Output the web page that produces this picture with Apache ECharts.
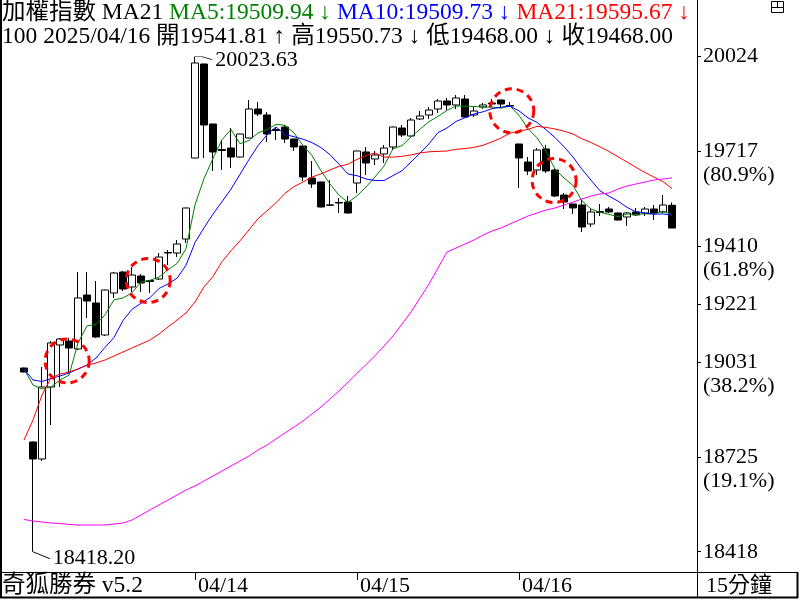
<!DOCTYPE html>
<html>
<head>
<meta charset="utf-8">
<title>加權指數 15分鐘</title>
<script src="https://cdn.jsdelivr.net/npm/echarts@6/dist/echarts.min.js"></script>
<style>
    html, body { margin: 0; padding: 0; background: #fff; }
    #main { width: 800px; height: 600px; }
</style>
</head>
<body>
<div id="main"></div>
<script>
// 15分K：04/10最後一根 + 04/11、04/14、04/15、04/16 各18根
const openArr = [19014.1, 18774.1, 18719.0, 18952.5, 19088.7, 19101.6, 19075.7, 19250.8, 19224.9, 19121.1,
    19257.3, 19325.4, 19276.8, 19312.4, 19297.9, 19302.7, 19387.0, 19387.0, 19432.4, 19695.1,
    19999.9, 19805.4, 19722.7, 19727.5, 19698.3, 19760.0, 19854.0, 19834.6, 19787.5, 19795.6,
    19756.7, 19734.0, 19630.2, 19617.3, 19543.0, 19550.8, 19552.4, 19614.0, 19714.6, 19691.9,
    19708.1, 19730.8, 19792.4, 19766.5, 19821.6, 19834.6, 19854.0, 19880.0, 19867.0, 19886.4,
    19834.6, 19860.5, 19873.5, 19883.2, 19865.4, 19740.5, 19682.1, 19656.2, 19724.3, 19656.2,
    19575.1, 19545.9, 19542.7, 19481.1, 19521.6, 19529.7, 19516.7, 19503.8, 19520.0, 19516.7,
    19529.7, 19520.0, 19541.81];
const closeArr = [19001.1, 18719.0, 18952.5, 19095.2, 19108.1, 19078.9, 19241.1, 19231.4, 19114.6, 19267.0,
    19322.2, 19270.3, 19315.7, 19289.7, 19294.6, 19374.0, 19388.7, 19416.2, 19533.0, 20003.2,
    19802.1, 19714.6, 19719.4, 19698.3, 19772.9, 19854.0, 19837.8, 19772.9, 19784.3, 19756.7,
    19730.8, 19633.5, 19610.8, 19536.2, 19542.0, 19549.2, 19516.7, 19717.8, 19678.9, 19704.8,
    19727.5, 19795.6, 19769.7, 19818.3, 19831.3, 19850.8, 19880.0, 19867.0, 19889.7, 19828.1,
    19847.5, 19867.0, 19870.2, 19870.2, 19863.7, 19695.1, 19652.9, 19721.0, 19652.9, 19571.9,
    19552.4, 19533.0, 19471.3, 19520.0, 19518.4, 19520.0, 19494.0, 19516.7, 19510.3, 19529.7,
    19516.7, 19542.7, 19468.00];
const lowArr = [19000.0, 18418.2, 18712.5, 18829.2, 18952.5, 18997.9, 19072.4, 19176.2, 19112.0, 19117.9,
    19241.1, 19263.8, 19260.5, 19260.5, 19257.3, 19299.5, 19348.1, 19374.0, 19419.5, 19694.0,
    19695.1, 19652.9, 19656.2, 19662.7, 19697.0, 19759.0, 19831.3, 19747.0, 19753.5, 19743.8,
    19717.8, 19620.5, 19597.8, 19535.0, 19541.5, 19516.7, 19515.0, 19581.6, 19640.0, 19672.4,
    19678.9, 19721.0, 19763.2, 19765.0, 19818.3, 19821.6, 19841.0, 19850.8, 19854.0, 19827.0,
    19828.1, 19854.0, 19860.5, 19857.3, 19860.5, 19597.8, 19640.0, 19640.0, 19646.5, 19568.6,
    19529.7, 19513.5, 19455.1, 19471.3, 19507.0, 19516.7, 19492.0, 19474.6, 19507.0, 19507.0,
    19494.0, 19516.7, 19468.00];
const highArr = [19015.0, 18776.0, 19017.3, 19101.6, 19111.4, 19111.4, 19325.4, 19325.4, 19296.2, 19268.0,
    19325.4, 19328.6, 19341.6, 19318.9, 19299.5, 19387.0, 19396.7, 19429.2, 19534.0, 20023.63,
    20001.0, 19806.0, 19753.5, 19792.4, 19774.0, 19883.2, 19876.7, 19844.3, 19795.6, 19802.1,
    19757.5, 19735.0, 19685.4, 19618.0, 19623.8, 19565.4, 19571.9, 19719.0, 19730.8, 19717.8,
    19737.3, 19797.0, 19802.1, 19824.8, 19847.5, 19860.5, 19886.4, 19889.7, 19899.4, 19899.4,
    19860.5, 19873.5, 19886.4, 19884.0, 19876.7, 19741.5, 19698.3, 19727.5, 19737.3, 19662.7,
    19581.6, 19547.0, 19558.9, 19529.7, 19545.9, 19536.2, 19518.0, 19520.0, 19533.0, 19536.2,
    19542.7, 19575.1, 19550.73];

// 均線
const ma5 = [19010.8, 18958.9, 18946.0, 18952.5, 18975.2, 18990.7, 19095.2, 19150.9, 19154.8, 19186.6,
    19235.2, 19241.1, 19257.9, 19293.0, 19298.5, 19308.9, 19332.5, 19352.6, 19401.3, 19543.0,
    19628.6, 19693.8, 19754.5, 19787.5, 19741.5, 19751.9, 19776.5, 19787.2, 19804.4, 19801.2,
    19776.5, 19735.6, 19703.2, 19653.6, 19610.8, 19574.5, 19551.1, 19572.5, 19601.1, 19633.5,
    19669.2, 19724.9, 19735.3, 19763.2, 19788.5, 19813.2, 19830.0, 19849.5, 19863.7, 19863.1,
    19862.4, 19859.9, 19860.5, 19856.6, 19863.7, 19833.3, 19790.5, 19760.6, 19717.2, 19658.8,
    19630.2, 19606.2, 19556.3, 19529.7, 19519.0, 19512.5, 19504.7, 19513.8, 19511.9, 19514.1,
    19513.5, 19523.2, 19509.94];
const ma10 = [19010.8, 18975.2, 18970.3, 18980.0, 18988.1, 18997.9, 19010.8, 19023.8, 19046.5, 19080.9,
    19113.0, 19168.1, 19204.4, 19223.9, 19242.4, 19271.9, 19286.8, 19305.3, 19347.1, 19420.7,
    19468.7, 19513.2, 19553.4, 19594.2, 19642.2, 19690.2, 19735.0, 19770.7, 19796.0, 19771.3,
    19764.2, 19756.1, 19745.0, 19728.8, 19705.8, 19675.3, 19643.2, 19637.7, 19627.3, 19622.1,
    19621.8, 19638.0, 19653.9, 19682.1, 19711.0, 19741.2, 19777.5, 19792.4, 19813.5, 19825.8,
    19837.8, 19844.9, 19855.0, 19860.2, 19863.4, 19847.9, 19825.2, 19810.6, 19786.9, 19761.3,
    19731.8, 19698.3, 19658.5, 19623.4, 19588.7, 19571.2, 19555.3, 19534.9, 19520.6, 19516.4,
    19512.8, 19513.8, 19509.73];
const ma21 = [18780.6, 18845.4, 18926.5, 18981.6, 18994.6, 19001.1, 19010.8, 19023.8, 19030.3, 19040.0,
    19053.0, 19066.0, 19078.9, 19091.9, 19104.9, 19124.3, 19147.0, 19169.7, 19192.4, 19228.1,
    19277.1, 19311.1, 19358.8, 19394.2, 19426.6, 19461.9, 19498.3, 19523.6, 19549.8, 19580.3,
    19602.4, 19617.3, 19633.5, 19643.9, 19656.2, 19668.2, 19675.0, 19690.6, 19703.2, 19711.3,
    19698.3, 19697.9, 19700.6, 19705.2, 19711.6, 19715.2, 19716.5, 19717.8, 19723.3, 19725.6,
    19729.8, 19736.3, 19747.6, 19760.0, 19775.5, 19782.7, 19787.9, 19797.6, 19794.3, 19789.2,
    19782.0, 19772.9, 19757.4, 19745.4, 19731.1, 19716.2, 19699.3, 19682.1, 19664.9, 19648.1,
    19633.2, 19618.6, 19595.67];
const maLong = [18522.8, 18517.9, 18514.7, 18511.4, 18509.8, 18506.5, 18504.9, 18504.9, 18504.9, 18504.9,
    18508.2, 18511.4, 18521.1, 18537.4, 18553.6, 18569.8, 18586.0, 18602.2, 18618.4, 18631.4,
    18647.6, 18663.8, 18680.0, 18696.3, 18712.5, 18728.7, 18748.1, 18764.4, 18783.8, 18803.3,
    18822.7, 18842.2, 18864.9, 18887.6, 18913.5, 18939.5, 18968.0, 18997.0, 19025.0, 19054.0,
    19085.4, 19117.9, 19156.8, 19195.7, 19241.1, 19286.5, 19338.4, 19390.3, 19403.2, 19416.2,
    19429.2, 19445.4, 19458.4, 19468.1, 19481.1, 19494.0, 19507.0, 19516.7, 19526.5, 19533.0,
    19542.7, 19552.4, 19562.1, 19571.9, 19578.4, 19581.6, 19594.6, 19604.3, 19610.8, 19617.3,
    19623.8, 19627.0, 19630.2];

// 日期刻度（每日第一根K棒的序號）
const dayStarts = [19, 37, 55];
const dayNames = ['04/14', '04/15', '04/16'];
// 黃金分割刻度
const fibRatios = [1, 0.809, 0.618, 0.5, 0.382, 0.191, 0];
const fibPct = ['', '(80.9%)', '(61.8%)', '', '(38.2%)', '(19.1%)', ''];
// 紅色虛線圈（K棒序號, 價位）
const circleSpots = [[4.8, 19037], [13.8, 19298], [54.2, 19848], [58.9, 19622]];

(function () {
    const my_echart = echarts.init(document.getElementById('main'));
    const font = "'Liberation Serif', 'Noto Sans CJK TC', serif";
    const n = closeArr.length;
    const hi = Math.max(...highArr);
    const lo = Math.min(...lowArr);
    const hiIdx = highArr.indexOf(hi);
    const loIdx = lowArr.indexOf(lo);

    const fibValues = fibRatios.map(r => lo + r * (hi - lo));
    const fibText = {};
    fibValues.forEach((v, k) => {
        fibText[v.toFixed(2)] = fibPct[k] ? '\n' + Math.round(v) + '\n' + fibPct[k] : String(Math.round(v));
    });

    const candleData = closeArr.map((c, i) => [i, openArr[i], c, lowArr[i], highArr[i]]);
    const toLine = arr => arr.map((v, i) => [i, v]);

    const head1 = '{k|加權指數 MA21 }{g|MA5:' + ma5[n - 1].toFixed(2) + ' ↓} {b|MA10:' + ma10[n - 1].toFixed(2) +
        ' ↓} {r|MA21:' + ma21[n - 1].toFixed(2) + ' ↓}';
    const head2 = '{k|100 2025/04/16 開' + openArr[n - 1].toFixed(2) + ' ↑ 高' + highArr[n - 1].toFixed(2) +
        ' ↓ 低' + lowArr[n - 1].toFixed(2) + ' ↓ 收' + closeArr[n - 1].toFixed(2) + '}';

    const txt = { fontFamily: font, fontSize: 22, lineHeight: 24, fontWeight: 'normal', color: '#000' };
    const big = Object.assign({}, txt, { fontSize: 23.5 });
    const line = (x1, y1, x2, y2, w) => ({
        type: 'line', silent: true, z: 100,
        shape: { x1: x1, y1: y1, x2: x2, y2: y2 },
        style: { stroke: '#000', lineWidth: w || 1 }
    });

    let option = {
        animation: false,
        backgroundColor: '#fff',
        title: [
            {
                left: 2, top: 1, padding: 0,
                text: head1 + '\n' + head2,
                textStyle: Object.assign({}, big, {
                    rich: {
                        k: Object.assign({}, big, { color: '#000' }),
                        g: Object.assign({}, big, { color: '#008000' }),
                        b: Object.assign({}, big, { color: '#0000ff' }),
                        r: Object.assign({}, big, { color: '#ff0000' })
                    }
                })
            },
            { left: 2, top: 574, padding: 0, text: '奇狐勝券 v5.2', textStyle: big },
            { left: 706, top: 574, padding: 0, text: '15分鐘', textStyle: txt }
        ],
        grid: {
            left: 0, right: 103, top: 0, bottom: 28,
            outerBoundsMode: 'none'
        },
        xAxis: {
            type: 'value',
            min: -24 / 9,
            max: (697 - 24) / 9,
            axisLine: { show: false, onZero: false },
            splitLine: { show: false },
            axisTick: {
                show: true, length: 8, customValues: dayStarts,
                lineStyle: { color: '#000' }
            },
            axisLabel: {
                customValues: dayStarts,
                formatter: v => dayNames[dayStarts.indexOf(v)] || '',
                align: 'left', margin: 2, padding: [0, 0, 0, 3],
                fontFamily: font, fontSize: 22, lineHeight: 24, color: '#000'
            }
        },
        yAxis: {
            type: 'value',
            position: 'right',
            min: 18352.5,
            max: 20207.5,
            axisLine: { show: false, onZero: false },
            splitLine: { show: false },
            axisTick: {
                show: true, length: 4, customValues: fibValues,
                lineStyle: { color: '#000' }
            },
            axisLabel: {
                customValues: fibValues,
                formatter: v => fibText[v.toFixed(2)] || '',
                margin: 6,
                fontFamily: font, fontSize: 22, lineHeight: 24, color: '#000'
            }
        },
        series: [
            {
                name: '加權指數',
                type: 'candlestick',
                data: candleData,
                barWidth: 7,
                itemStyle: {
                    color: '#fff', color0: '#000',
                    borderColor: '#000', borderColor0: '#000', borderWidth: 1
                },
                markPoint: {
                    silent: true,
                    data: circleSpots.map(p => ({
                        coord: p, symbol: 'circle', symbolSize: 44,
                        itemStyle: { color: 'transparent', borderColor: '#ff0000', borderWidth: 3, borderType: [7, 5] },
                        label: { show: false }
                    })).concat([
                        {
                            coord: [hiIdx, hi], symbol: 'path://M0,0L7,0L17,3',
                            symbolSize: [17, 3], symbolOffset: [8.5, 1.5],
                            itemStyle: { color: 'transparent', borderColor: '#000', borderWidth: 1 },
                            label: {
                                show: true, position: 'right', distance: 2, offset: [0, 2],
                                formatter: hi.toFixed(2), fontFamily: font, fontSize: 22, color: '#000'
                            }
                        },
                        {
                            coord: [loIdx, lo], symbol: 'path://M0,0L17,7',
                            symbolSize: [17, 7], symbolOffset: [8.5, 3.5],
                            itemStyle: { color: 'transparent', borderColor: '#000', borderWidth: 1 },
                            label: {
                                show: true, position: 'right', distance: 2, offset: [0, 3],
                                formatter: lo.toFixed(2), fontFamily: font, fontSize: 22, color: '#000'
                            }
                        }
                    ])
                }
            },
            { name: 'MA5', type: 'line', data: toLine(ma5), showSymbol: false, lineStyle: { color: '#008000', width: 1 } },
            { name: 'MA10', type: 'line', data: toLine(ma10), showSymbol: false, lineStyle: { color: '#0000ff', width: 1 } },
            { name: 'MA21', type: 'line', data: toLine(ma21), showSymbol: false, lineStyle: { color: '#ff0000', width: 1 } },
            { name: 'MA', type: 'line', data: toLine(maLong), showSymbol: false, lineStyle: { color: '#ff00ff', width: 1 } }
        ],
        graphic: [
            line(1, 0, 1, 598, 2),
            line(697.5, 0, 697.5, 598),
            line(0, 572.5, 798, 572.5),
            line(0, 597.5, 798, 597.5, 2),
            line(797.5, 572, 797.5, 598, 2),
            // 右上角小圖示
            { type: 'rect', silent: true, shape: { x: 771.5, y: 1.5, width: 12, height: 11 }, style: { fill: 'none', stroke: '#000', lineWidth: 1 } },
            line(771.5, 7.5, 783.5, 7.5),
            line(777.5, 1.5, 777.5, 7.5)
        ]
    }; //配置項
    my_echart.setOption(option);
    window.addEventListener('resize', function () {
        my_echart.resize();
    });
})();
</script>
</body>
</html>
